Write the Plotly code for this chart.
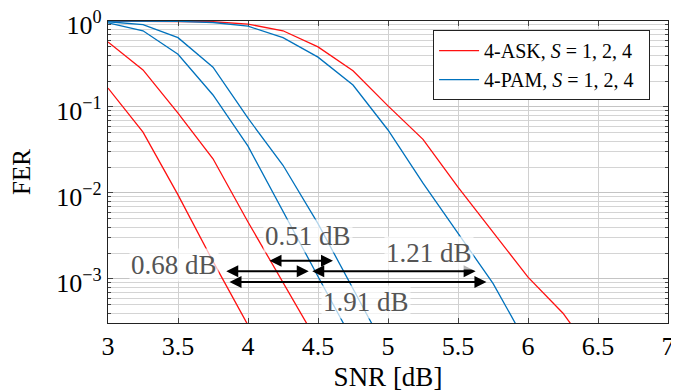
import numpy as np
import plotly.graph_objects as go

# ---------------- data ----------------
snr = [3.0, 3.25, 3.5, 3.75, 4.0, 4.25, 4.5, 4.75, 5.0, 5.25, 5.5, 5.75, 6.0, 6.25, 6.5]

# 4-ASK, S = 1, 2, 4
ask_s1 = [0.166, 0.051, 0.0095, 0.0016, 2.9e-4]
ask_s2 = [0.57, 0.27, 0.085, 0.025, 0.0046, 9.3e-4, 1.8e-4]
ask_s4 = [1.0, 0.999, 0.995, 0.98, 0.92, 0.77, 0.50, 0.264, 0.103, 0.042, 0.0117, 0.0035, 1.05e-3, 4.0e-4, 1.1e-4]

# 4-PAM, S = 1, 2, 4
pam_s1 = [0.95, 0.77, 0.41, 0.138, 0.035, 0.006, 1.07e-3, 1.9e-4]
pam_s2 = [0.98, 0.91, 0.64, 0.29, 0.074, 0.021, 0.0044, 7.9e-4, 1.35e-4]
pam_s4 = [1.0, 0.999, 0.99, 0.96, 0.87, 0.64, 0.38, 0.18, 0.054, 0.013, 0.0034, 8.9e-4, 1.66e-4]

# gap arrows (SNR start, SNR end, FER level) and their labels
gap_labels = ["0.51 dB", "0.68 dB", "1.21 dB", "1.91 dB"]
gap_x0 = [4.143, 3.834, 4.448, 3.857]
gap_x1 = [4.607, 4.434, 5.626, 5.703]
gap_fer = [1.63e-3, 1.23e-3, 1.23e-3, 9.2e-4]
label_x = [4.43, 3.47, 5.29, 4.84]
label_fer = [3.2e-3, 1.45e-3, 2.0e-3, 5.4e-4]

x_ticks = [3, 3.5, 4, 4.5, 5, 5.5, 6, 6.5, 7]
x_tick_text = ["3", "3.5", "4", "4.5", "5", "5.5", "6", "6.5", "7"]
y_ticks = [1e-3, 1e-2, 1e-1, 1]
y_tick_text = ["10<sup>−3</sup>", "10<sup>−2</sup>", "10<sup>−1</sup>", "10<sup>0</sup>"]

RED = "#ff1010"
BLUE = "#0072bd"
FONT = "Liberation Serif"
PAD = "\u00a0\u00a0"

fig = go.Figure()

series = [
    (ask_s1, RED, "ask", True, "4-ASK, <i>S</i> = 1, 2, 4" + PAD),
    (ask_s2, RED, "ask", False, None),
    (ask_s4, RED, "ask", False, None),
    (pam_s1, BLUE, "pam", True, "4-PAM, <i>S</i> = 1, 2, 4" + PAD),
    (pam_s2, BLUE, "pam", False, None),
    (pam_s4, BLUE, "pam", False, None),
]
for vals, col, grp, show, name in series:
    fig.add_trace(go.Scatter(
        x=snr[:len(vals)], y=vals, mode="lines",
        line=dict(color=col, width=1.3),
        legendgroup=grp, showlegend=show, name=name or "",
        hoverinfo="skip",
    ))

# arrows
for x0, x1, f in zip(gap_x0, gap_x1, gap_fer):
    fig.add_annotation(
        x=x1, y=np.log10(f), ax=x0, ay=np.log10(f),
        xref="x", yref="y", axref="x", ayref="y",
        text="", showarrow=True, arrowhead=2, arrowside="end+start",
        arrowsize=1.2, arrowwidth=2, arrowcolor="black", standoff=0, startstandoff=0,
    )

# labels with translucent background
for t, lx, lf in zip(gap_labels, label_x, label_fer):
    fig.add_annotation(
        x=lx, y=np.log10(lf), xref="x", yref="y", text=t, showarrow=False,
        font=dict(family=FONT, size=27, color="#555555"),
        bgcolor="rgba(255,255,255,0.7)", borderpad=1,
    )

minor_vals = [k * 10.0 ** d for d in range(-4, 0) for k in range(2, 10)]

# page body adds an 8 px offset, so the figure is 8 px smaller on each axis
fig.update_layout(
    width=671, height=384,
    margin=dict(l=100, r=11, t=13, b=69, autoexpand=False),
    paper_bgcolor="white", plot_bgcolor="white",
    font=dict(family=FONT, size=26, color="black"),
    showlegend=True,
    legend=dict(
        x=0.968, y=0.97, xanchor="right", yanchor="top",
        bgcolor="white", bordercolor="#222222", borderwidth=1,
        font=dict(family=FONT, size=20, color="black"),
        tracegroupgap=0, itemwidth=40,
    ),
)

fig.update_xaxes(
    range=[3, 7], tickvals=x_ticks, ticktext=x_tick_text, automargin=False,
    ticklabeloverflow="allow",
    showgrid=True, gridcolor="#d0d0d0", gridwidth=1.2,
    showline=True, linecolor="#222222", linewidth=1.2, mirror="allticks",
    ticks="inside", ticklen=5, tickcolor="#444444",
    zeroline=False,
    title=dict(text="SNR [dB]", font=dict(family=FONT, size=27), standoff=14),
    tickfont=dict(family=FONT, size=26),
)
fig.update_yaxes(
    type="log", range=[-3.512, 0], tickvals=y_ticks, ticktext=y_tick_text, automargin=False,
    ticklabeloverflow="allow", ticklabelshift=4,
    showgrid=True, gridcolor="#c4c4c4", gridwidth=1,
    showline=True, linecolor="#222222", linewidth=1.2, mirror="allticks",
    ticks="inside", ticklen=5, tickcolor="#444444",
    minor=dict(tickvals=minor_vals, ticks="inside", ticklen=3, tickcolor="#444444",
               showgrid=True, gridcolor="#d4d4d4", gridwidth=1),
    zeroline=False,
    title=dict(text="FER", font=dict(family=FONT, size=25), standoff=19),
    tickfont=dict(family=FONT, size=26),
)

fig.write_html("out.html")
